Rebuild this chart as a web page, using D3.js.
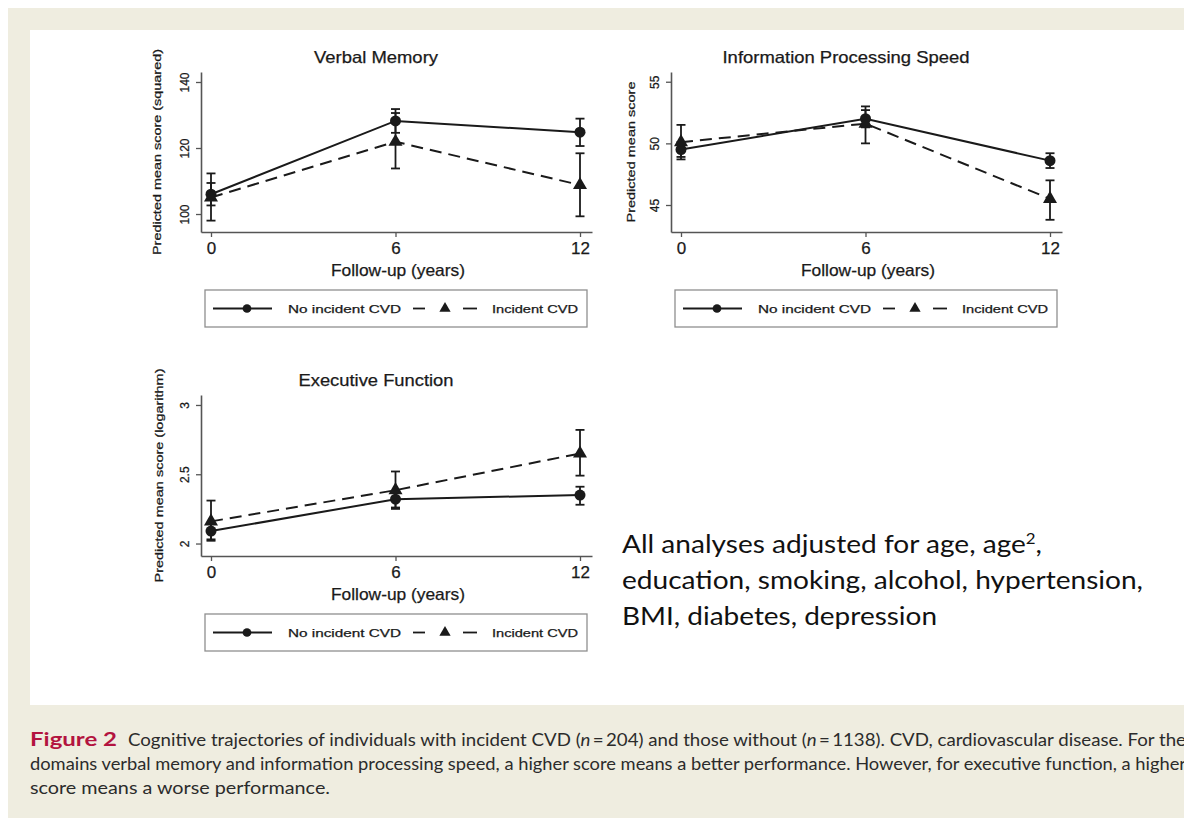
<!DOCTYPE html>
<html>
<head>
<meta charset="utf-8">
<script src="https://cdn.jsdelivr.net/npm/d3@7"></script>
<style>
  body { margin: 0; background: #ffffff; }
  svg { display: block; }
</style>
</head>
<body>
<svg id="fig" width="1184" height="819"></svg>
<script>
// Follow-up waves (years)
const followUp = [0, 6, 12];
const followUpTicks = [0, 6, 12];

// Verbal memory (squared score): predicted means and 95% CI
const verbalNoCvd   = [106.0, 128.2, 124.8];
const verbalNoCvdLo = [102.6, 124.6, 120.6];
const verbalNoCvdHi = [109.4, 131.8, 128.9];
const verbalCvd     = [105.0, 121.9, 108.8];
const verbalCvdLo   = [98.0, 113.8, 99.3];
const verbalCvdHi   = [112.3, 130.6, 118.4];
const verbalTicks   = [100, 120, 140];

// Information processing speed: predicted means and 95% CI
const speedNoCvd   = [49.5, 52.0, 48.6];
const speedNoCvdLo = [48.9, 51.3, 48.0];
const speedNoCvdHi = [50.1, 52.7, 49.2];
const speedCvd     = [50.1, 51.6, 45.5];
const speedCvdLo   = [48.7, 50.0, 43.8];
const speedCvdHi   = [51.5, 53.0, 47.0];
const speedTicks   = [45, 50, 55];

// Executive function (log score): predicted means and 95% CI
const execNoCvd   = [2.09, 2.32, 2.35];
const execNoCvdLo = [2.03, 2.26, 2.28];
const execNoCvdHi = [2.15, 2.38, 2.41];
const execCvd     = [2.16, 2.385, 2.65];
const execCvdLo   = [2.02, 2.25, 2.49];
const execCvdHi   = [2.31, 2.52, 2.82];
const execTicks   = [2, 2.5, 3];

const legendLabels = ["No incident CVD", "Incident CVD"];

const svg = d3.select("#fig");
const ink = "#1a1a1a";
const axisInk = "#555555";
const plotFont = "'Liberation Sans', Arial, sans-serif";

// page background: beige figure box with white plotting area
svg.append("rect").attr("x", 0).attr("y", 0).attr("width", 1184).attr("height", 819).attr("fill", "#ffffff");
svg.append("rect").attr("x", 8).attr("y", 8).attr("width", 1176).attr("height", 810).attr("fill", "#efede0");
svg.append("rect").attr("x", 30).attr("y", 30).attr("width", 1154).attr("height", 675).attr("fill", "#ffffff");

// plot text gets a faint outline so it reads as heavy as a rasterised Stata graph
function plotText(sel, size) {
  return sel.style("font-family", plotFont).style("font-size", size)
    .attr("fill", ink).attr("stroke", ink).attr("stroke-width", 0.25);
}

function drawPanel(p) {
  const g = svg.append("g");
  const width = 391;
  const pxPerYear = 369 / 12;
  const x = d3.scaleLinear()
    .domain([-10 / pxPerYear, 12 + 12 / pxPerYear])
    .range([p.left, p.left + width]);
  const y = d3.scaleLinear().domain(p.yDomain).range([p.bottom, p.top]);

  // y axis
  const yAxis = g.append("g")
    .attr("transform", `translate(${p.left},0)`)
    .call(d3.axisLeft(y).tickValues(p.yTicks).tickSize(5).tickSizeOuter(0).tickFormat(d3.format("")));
  yAxis.select(".domain").attr("stroke", axisInk).attr("stroke-width", 1.6);
  yAxis.selectAll(".tick line").attr("stroke", axisInk).attr("stroke-width", 1.3);
  plotText(yAxis.selectAll(".tick text"), "12px")
    .attr("transform", "rotate(-90)")
    .attr("x", 0).attr("y", -12).attr("dy", 0)
    .style("text-anchor", "middle");

  // x axis
  const xAxis = g.append("g")
    .attr("transform", `translate(0,${p.bottom})`)
    .call(d3.axisBottom(x).tickValues(followUpTicks).tickSize(5).tickSizeOuter(0));
  xAxis.select(".domain").attr("stroke", axisInk).attr("stroke-width", 1.6);
  xAxis.selectAll(".tick line").attr("stroke", axisInk).attr("stroke-width", 1.3);
  plotText(xAxis.selectAll(".tick text"), "17px")
    .attr("y", 10).attr("dy", "0.71em");

  // titles
  plotText(g.append("text"), "16.5px")
    .attr("x", p.left + 175).attr("y", p.top - 9)
    .attr("text-anchor", "middle")
    .attr("textLength", p.titleWidth).attr("lengthAdjust", "spacingAndGlyphs")
    .text(p.title);
  plotText(g.append("text"), "16.5px")
    .attr("x", p.left + 197).attr("y", p.bottom + 44)
    .attr("text-anchor", "middle")
    .attr("textLength", 134).attr("lengthAdjust", "spacingAndGlyphs")
    .text("Follow-up (years)");
  plotText(g.append("text"), "10.5px")
    .attr("transform", `translate(${p.left - p.yTitleGap},${(p.top + p.bottom) / 2}) rotate(-90)`)
    .attr("text-anchor", "middle")
    .attr("textLength", p.yTitleWidth).attr("lengthAdjust", "spacingAndGlyphs")
    .text(p.yTitle);

  const series = [
    { mean: p.noCvd, lo: p.noCvdLo, hi: p.noCvdHi, dash: null, marker: d3.symbolCircle, size: 95 },
    { mean: p.cvd, lo: p.cvdLo, hi: p.cvdHi, dash: "12,7", marker: d3.symbolTriangle, size: 85 }
  ];

  // confidence intervals
  series.forEach(s => {
    const eb = g.append("g").attr("stroke", ink).attr("stroke-width", 1.8).attr("fill", "none");
    followUp.forEach((t, i) => {
      eb.append("line").attr("x1", x(t)).attr("x2", x(t)).attr("y1", y(s.lo[i])).attr("y2", y(s.hi[i]));
      eb.append("line").attr("x1", x(t) - 4.5).attr("x2", x(t) + 4.5).attr("y1", y(s.lo[i])).attr("y2", y(s.lo[i]));
      eb.append("line").attr("x1", x(t) - 4.5).attr("x2", x(t) + 4.5).attr("y1", y(s.hi[i])).attr("y2", y(s.hi[i]));
    });
  });

  // trajectories and markers
  const line = d3.line().x((d, i) => x(followUp[i])).y(d => y(d));
  series.forEach(s => {
    g.append("path").datum(s.mean)
      .attr("d", line).attr("fill", "none").attr("stroke", ink).attr("stroke-width", 2)
      .attr("stroke-dasharray", s.dash);
    g.selectAll(null).data(s.mean).join("path")
      .attr("transform", (d, i) => `translate(${x(followUp[i])},${y(d)})`)
      .attr("d", d3.symbol().type(s.marker).size(s.size))
      .attr("fill", ink);
  });

  // legend box
  const ly = p.bottom + 58;
  const lg = g.append("g");
  lg.append("rect").attr("x", p.left + 4).attr("y", ly).attr("width", 382).attr("height", 37)
    .attr("fill", "#ffffff").attr("stroke", "#8f8f8f").attr("stroke-width", 1.3);
  const cy = ly + 18.5;
  lg.append("line").attr("x1", p.left + 12).attr("x2", p.left + 71).attr("y1", cy).attr("y2", cy)
    .attr("stroke", ink).attr("stroke-width", 1.8);
  lg.append("path").attr("transform", `translate(${p.left + 46},${cy})`)
    .attr("d", d3.symbol().type(d3.symbolCircle).size(60)).attr("fill", ink);
  plotText(lg.append("text"), "11px").attr("x", p.left + 87).attr("y", cy + 4)
    .attr("textLength", 113).attr("lengthAdjust", "spacingAndGlyphs")
    .text(legendLabels[0]);
  lg.append("line").attr("x1", p.left + 212).attr("x2", p.left + 224).attr("y1", cy).attr("y2", cy)
    .attr("stroke", ink).attr("stroke-width", 1.8);
  lg.append("line").attr("x1", p.left + 262).attr("x2", p.left + 276).attr("y1", cy).attr("y2", cy)
    .attr("stroke", ink).attr("stroke-width", 1.8);
  lg.append("path").attr("transform", `translate(${p.left + 244},${cy})`)
    .attr("d", d3.symbol().type(d3.symbolTriangle).size(55)).attr("fill", ink);
  plotText(lg.append("text"), "11px").attr("x", p.left + 291).attr("y", cy + 4)
    .attr("textLength", 86).attr("lengthAdjust", "spacingAndGlyphs")
    .text(legendLabels[1]);
}

drawPanel({
  left: 201, top: 72, bottom: 232,
  yDomain: [94.55, 143.03], yTicks: verbalTicks,
  title: "Verbal Memory", titleWidth: 124,
  yTitle: "Predicted mean score (squared)", yTitleWidth: 206, yTitleGap: 40,
  noCvd: verbalNoCvd, noCvdLo: verbalNoCvdLo, noCvdHi: verbalNoCvdHi,
  cvd: verbalCvd, cvdLo: verbalCvdLo, cvdHi: verbalCvdHi
});
drawPanel({
  left: 671, top: 72, bottom: 232,
  yDomain: [42.81, 55.79], yTicks: speedTicks,
  title: "Information Processing Speed", titleWidth: 247,
  yTitle: "Predicted mean score", yTitleWidth: 141, yTitleGap: 36,
  noCvd: speedNoCvd, noCvdLo: speedNoCvdLo, noCvdHi: speedNoCvdHi,
  cvd: speedCvd, cvdLo: speedCvdLo, cvdHi: speedCvdHi
});
drawPanel({
  left: 201, top: 395, bottom: 556,
  yDomain: [1.910, 3.072], yTicks: execTicks,
  title: "Executive Function", titleWidth: 155,
  yTitle: "Predicted mean score (logarithm)", yTitleWidth: 214, yTitleGap: 38,
  noCvd: execNoCvd, noCvdLo: execNoCvdLo, noCvdHi: execNoCvdHi,
  cvd: execCvd, cvdLo: execCvdLo, cvdHi: execCvdHi
});

// adjustment note
const noteFont = "Lato, 'Open Sans', sans-serif";
const note = svg.append("g").style("font-family", noteFont).style("font-size", "25px").attr("fill", "#111");
const n1 = note.append("text").attr("x", 622).attr("y", 553)
  .attr("textLength", 420).attr("lengthAdjust", "spacingAndGlyphs");
n1.append("tspan").text("All analyses adjusted for age, age");
n1.append("tspan").attr("dy", -9).style("font-size", "15px").text("2");
n1.append("tspan").attr("dy", 9).text(",");
note.append("text").attr("x", 622).attr("y", 589)
  .attr("textLength", 521).attr("lengthAdjust", "spacingAndGlyphs")
  .text("education, smoking, alcohol, hypertension,");
note.append("text").attr("x", 622).attr("y", 625)
  .attr("textLength", 315).attr("lengthAdjust", "spacingAndGlyphs")
  .text("BMI, diabetes, depression");

// figure caption
const capFont = "Lato, 'Open Sans', sans-serif";
const cap = svg.append("g").style("font-family", capFont).style("font-size", "17px").attr("fill", "#2b2b2b");
cap.append("text").attr("x", 30).attr("y", 746)
  .attr("textLength", 87).attr("lengthAdjust", "spacingAndGlyphs")
  .style("font-weight", "bold").style("font-size", "18px").attr("fill", "#b3143f")
  .text("Figure 2");
const c1 = cap.append("text").attr("x", 128).attr("y", 746)
  .attr("textLength", 1058).attr("lengthAdjust", "spacingAndGlyphs");
c1.append("tspan").text("Cognitive trajectories of individuals with incident CVD (");
c1.append("tspan").style("font-style", "italic").text("n");
c1.append("tspan").text("\u2009=\u2009204) and those without (");
c1.append("tspan").style("font-style", "italic").text("n");
c1.append("tspan").text("\u2009=\u20091138). CVD, cardiovascular disease. For the");
cap.append("text").attr("x", 30).attr("y", 770)
  .attr("textLength", 1156).attr("lengthAdjust", "spacingAndGlyphs")
  .text("domains verbal memory and information processing speed, a higher score means a better performance. However, for executive function, a higher");
cap.append("text").attr("x", 30).attr("y", 794)
  .attr("textLength", 300).attr("lengthAdjust", "spacingAndGlyphs")
  .text("score means a worse performance.");
</script>
</body>
</html>
